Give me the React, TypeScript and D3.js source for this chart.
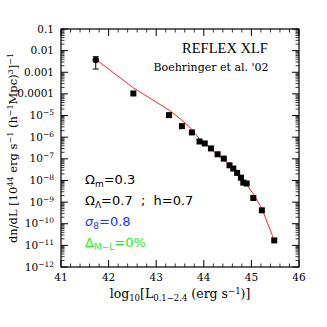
import React from "react";
import * as d3 from "d3";

// data
const lumX = [42.52, 43.27, 43.54, 43.75, 43.91, 44.02, 44.15, 44.29, 44.42, 44.54, 44.62, 44.7, 44.78, 44.83, 44.9, 45.04, 45.22, 45.48];
const lumLogY = [-3.98, -4.98, -5.49, -5.78, -6.2, -6.29, -6.52, -6.79, -6.99, -7.3, -7.45, -7.65, -7.87, -8.1, -8.14, -8.81, -9.38, -10.77];
const firstPoint = { x: 41.73, logY: -2.43, logLo: -2.85, logHi: -2.28 };
const modelX = [41.73, 42.52, 43.27, 43.54, 43.75, 43.91, 44.02, 44.15, 44.29, 44.42, 44.54, 44.62, 44.78, 44.83, 44.9, 45.04, 45.22, 45.48];
const modelLogY = [-2.4, -3.72, -4.75, -5.21, -5.64, -6.08, -6.28, -6.55, -6.82, -7.05, -7.3, -7.48, -7.88, -8.02, -8.2, -8.62, -9.3, -10.77];
const xTicks = [41, 42, 43, 44, 45, 46];
const yDecades = [-1, -2, -3, -4, -5, -6, -7, -8, -9, -10, -11, -12];
const yPlainLabels = ["0.1", "0.01", "0.001", "0.0001"];

const W = 327, H = 327;
const L = 61, R = 299, T = 29, B = 267;

export default function App() {
  const x = d3.scaleLinear().domain([41, 46]).range([L, R]);
  const y = d3.scaleLog().domain([1e-12, 0.1]).range([B, T]);

  const majLen = 7, minLen = 3.5;
  const yMinor: number[] = [];
  for (let e = -12; e < -1; e++) for (let m = 2; m <= 9; m++) yMinor.push(m * Math.pow(10, e));
  const xMinor = d3.range(41, 46.001, 0.2).filter((v) => Math.abs(v - Math.round(v)) > 1e-6);

  const line = d3.line<number>()
    .x((_, i) => x(modelX[i]))
    .y((d) => y(Math.pow(10, d)));

  const serif = "DejaVu Serif";
  const sans = "DejaVu Sans";

  return (
    <svg width={W} height={H} style={{ position: "absolute", left: 0, top: 0, background: "#fff" }}>
      <rect x={L} y={T} width={R - L} height={B - T} fill="none" stroke="#000" strokeWidth={1.2} />
      {/* y ticks */}
      {yDecades.map((e) => {
        const yy = y(Math.pow(10, e));
        return (
          <g key={"yd" + e}>
            <line x1={L} x2={L + majLen} y1={yy} y2={yy} stroke="#000" />
            <line x1={R} x2={R - majLen} y1={yy} y2={yy} stroke="#000" />
          </g>
        );
      })}
      {yMinor.map((v, i) => {
        const yy = y(v);
        return (
          <g key={"ym" + i}>
            <line x1={L} x2={L + minLen} y1={yy} y2={yy} stroke="#000" strokeWidth={0.8} />
            <line x1={R} x2={R - minLen} y1={yy} y2={yy} stroke="#000" strokeWidth={0.8} />
          </g>
        );
      })}
      {/* x ticks */}
      {xTicks.map((v) => (
        <g key={"xt" + v}>
          <line x1={x(v)} x2={x(v)} y1={B} y2={B - majLen} stroke="#000" />
          <line x1={x(v)} x2={x(v)} y1={T} y2={T + majLen} stroke="#000" />
          <text x={x(v)} y={281} fontFamily={serif} fontSize={10.5} textAnchor="middle">{v}</text>
        </g>
      ))}
      {xMinor.map((v, i) => (
        <g key={"xm" + i}>
          <line x1={x(v)} x2={x(v)} y1={B} y2={B - minLen} stroke="#000" strokeWidth={0.8} />
          <line x1={x(v)} x2={x(v)} y1={T} y2={T + minLen} stroke="#000" strokeWidth={0.8} />
        </g>
      ))}
      {/* y tick labels */}
      {yDecades.map((e, i) => {
        const yy = y(Math.pow(10, e)) + 3.5;
        if (i < yPlainLabels.length)
          return (
            <text key={"yl" + e} x={54} y={yy} fontFamily={serif} fontSize={10.5} textAnchor="end">{yPlainLabels[i]}</text>
          );
        return (
          <text key={"yl" + e} x={54} y={yy} fontFamily={serif} fontSize={10.5} textAnchor="end">
            10<tspan fontSize={7.5} dy={-4}>{"\u2212" + -e}</tspan>
          </text>
        );
      })}
      {/* model curve */}
      <path d={line(modelLogY) || ""} fill="none" stroke="#ff2828" strokeWidth={1} />
      {/* data */}
      <line x1={x(firstPoint.x)} x2={x(firstPoint.x)} y1={y(Math.pow(10, firstPoint.logHi))} y2={y(Math.pow(10, firstPoint.logLo))} stroke="#000" strokeWidth={1} />
      {[firstPoint.logHi, firstPoint.logLo].map((v, i) => (
        <line key={"cap" + i} x1={x(firstPoint.x) - 3} x2={x(firstPoint.x) + 3} y1={y(Math.pow(10, v))} y2={y(Math.pow(10, v))} stroke="#000" />
      ))}
      <circle cx={x(firstPoint.x)} cy={y(Math.pow(10, firstPoint.logY))} r={3.2} fill="#000" />
      {lumX.map((v, i) => (
        <rect key={"p" + i} x={x(v) - 3} y={y(Math.pow(10, lumLogY[i])) - 3} width={6} height={6} fill="#000" />
      ))}
      {/* annotations */}
      <text x={225} y={53} fontFamily="Liberation Serif" fontSize={14.5} textAnchor="middle">REFLEX XLF</text>
      <text x={211} y={71} fontFamily={serif} fontSize={11} textAnchor="middle">Boehringer et al. '02</text>
      <g fontFamily={sans} fontSize={13}>
        <text x={85} y={184}>Ω<tspan fontSize={9} dy={3}>m</tspan><tspan dy={-3}>=0.3</tspan></text>
        <text x={85} y={205} xmlSpace="preserve">Ω<tspan fontSize={9} dy={3}>Λ</tspan><tspan dy={-3}>{"=0.7  ;  h=0.7"}</tspan></text>
        <text x={85} y={226} fill="#2233ff"><tspan fontStyle="italic">σ</tspan><tspan fontSize={9} dy={3}>8</tspan><tspan dy={-3}>=0.8</tspan></text>
        <text x={85} y={247} fill="#22ee22">Δ<tspan fontSize={9} dy={3}>M−L</tspan><tspan dy={-3}>=0%</tspan></text>
      </g>
      {/* axis labels */}
      <text x={180} y={298} fontFamily={serif} fontSize={12.5} textAnchor="middle">
        log<tspan fontSize={8.5} dy={3}>10</tspan><tspan dy={-3}>[L</tspan><tspan fontSize={8.5} dy={3}>0.1−2.4</tspan><tspan dy={-3}> (erg s</tspan><tspan fontSize={8.5} dy={-4}>−1</tspan><tspan dy={4}>)]</tspan>
      </text>
      <text transform={`translate(17,${(T + B) / 2}) rotate(-90)`} fontFamily={serif} fontSize={11.5} textAnchor="middle">
        dn/dL [10<tspan fontSize={8} dy={-4}>44</tspan><tspan dy={4}> erg s</tspan><tspan fontSize={8} dy={-4}>−1</tspan><tspan dy={4}> (h</tspan><tspan fontSize={8} dy={-4}>−1</tspan><tspan dy={4}>Mpc)</tspan><tspan fontSize={8} dy={-4}>3</tspan><tspan dy={4}>]</tspan><tspan fontSize={8} dy={-4}>−1</tspan>
      </text>
    </svg>
  );
}
